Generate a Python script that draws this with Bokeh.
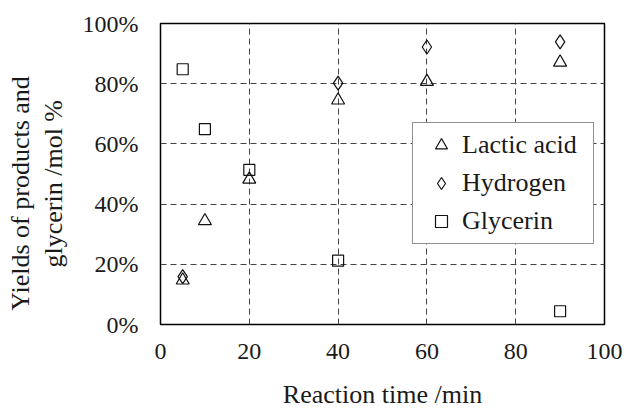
from bokeh.plotting import figure
from bokeh.models import (Range1d, FixedTicker, PrintfTickFormatter, LinearAxis,
                          Legend, LegendItem)
from bokeh.embed import file_html
from bokeh.resources import INLINE

# ---- data ----
time_lactic = [5, 10, 20, 40, 60, 90]
lactic_acid = [14.7, 34.4, 48.2, 74.5, 80.7, 87.1]

time_hydrogen = [5, 40, 60, 90]
hydrogen = [15.9, 80.2, 92.2, 93.9]

time_glycerin = [5, 10, 20, 40, 90]
glycerin = [84.8, 64.9, 51.4, 21.2, 4.4]

x_ticks = [0, 20, 40, 60, 80, 100]
y_ticks = [0, 20, 40, 60, 80, 100]

x_label = "Reaction time /min"
y_label_outer = "Yields of products and"
y_label_inner = "glycerin /mol %"

FONT = "Liberation Serif"
NBSP = "\u00a0"

p = figure(width=626, height=411, output_backend="svg", toolbar_location=None,
           x_range=Range1d(0, 100), y_range=Range1d(0, 100),
           min_border_left=160, min_border_right=22,
           min_border_top=23, min_border_bottom=84)
p.background_fill_color = "white"
p.border_fill_color = "white"
p.outline_line_color = "black"
p.outline_line_width = 1.5

# grids
for g in (p.xgrid[0], p.ygrid[0]):
    g.grid_line_color = "#444444"
    g.grid_line_dash = "6 4"
    g.grid_line_width = 1
p.xgrid[0].ticker = FixedTicker(ticks=x_ticks[1:-1])
p.ygrid[0].ticker = FixedTicker(ticks=y_ticks[1:-1])

# x axis
xa = p.xaxis[0]
xa.ticker = FixedTicker(ticks=x_ticks)
xa.axis_label = x_label
xa.axis_line_color = None
xa.major_tick_out = 0
xa.major_tick_in = 0
xa.minor_tick_out = 0
xa.minor_tick_in = 0
xa.major_label_standoff = 19
xa.axis_label_standoff = 18
xa.major_label_text_font = FONT
xa.major_label_text_font_size = "24px"
xa.major_label_text_color = "#1a1a1a"
xa.axis_label_text_font = FONT
xa.axis_label_text_font_size = "26px"
xa.axis_label_text_font_style = "normal"
xa.axis_label_text_color = "#1a1a1a"

# y axis (inner, with tick labels)
ya = p.yaxis[0]
ya.ticker = FixedTicker(ticks=y_ticks)
ya.formatter = PrintfTickFormatter(format="%d%%")
ya.axis_label = y_label_inner + NBSP * 3
ya.axis_line_color = None
ya.major_tick_out = 0
ya.major_tick_in = 0
ya.minor_tick_out = 0
ya.minor_tick_in = 0
ya.major_label_standoff = 22
ya.axis_label_standoff = 12
ya.major_label_text_font = FONT
ya.major_label_text_font_size = "24px"
ya.major_label_text_color = "#1a1a1a"
ya.axis_label_text_font = FONT
ya.axis_label_text_font_size = "26px"
ya.axis_label_text_font_style = "normal"
ya.axis_label_text_color = "#1a1a1a"

# outer y axis carrying the first line of the title
ya2 = LinearAxis(ticker=FixedTicker(ticks=[]), axis_label=y_label_outer + NBSP * 6)
ya2.axis_line_color = None
ya2.major_tick_out = 0
ya2.major_tick_in = 0
ya2.minor_tick_out = 0
ya2.minor_tick_in = 0
ya2.major_label_standoff = 0
ya2.major_label_text_font_size = "1px"
ya2.axis_label_standoff = 1
ya2.axis_label_text_font = FONT
ya2.axis_label_text_font_size = "26px"
ya2.axis_label_text_font_style = "normal"
ya2.axis_label_text_color = "#1a1a1a"
p.add_layout(ya2, "left")

# markers
common = dict(fill_color=None, line_color="#111111", line_width=1.2)
r_lac = p.scatter(time_lactic, lactic_acid, marker="triangle", size=13, **common)
r_h2 = p.scatter(time_hydrogen, hydrogen, marker="diamond", size=14, **common)
r_gly = p.scatter(time_glycerin, glycerin, marker="square", size=11, **common)

legend = Legend(items=[LegendItem(label="Lactic acid", renderers=[r_lac]),
                       LegendItem(label="Hydrogen", renderers=[r_h2]),
                       LegendItem(label="Glycerin", renderers=[r_gly])],
                location=(252, 80))
legend.label_text_font = FONT
legend.label_text_font_size = "26px"
legend.label_text_color = "#1a1a1a"
legend.border_line_color = "#222222"
legend.border_line_width = 1.2
legend.background_fill_color = "white"
legend.background_fill_alpha = 1
legend.padding = 7
legend.spacing = 8
legend.glyph_width = 42
legend.glyph_height = 30
legend.label_standoff = 0
legend.label_width = 124
legend.label_height = 30
legend.margin = 0
p.add_layout(legend, "center")

open("out.html", "w").write(file_html(p, INLINE))
